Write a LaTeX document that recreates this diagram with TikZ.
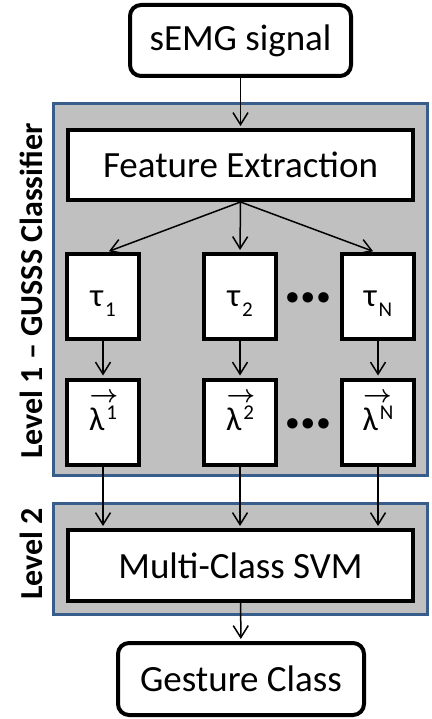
\documentclass[tikz,border=0pt]{standalone}
\usepackage{fontspec}
\setmainfont{Carlito}
\usetikzlibrary{arrows.meta}
\definecolor{levelblue}{HTML}{385D8A}
\definecolor{levelgray}{HTML}{C0C0C0}
\newcommand\tausub[1]{τ\kern2pt\raisebox{-10pt}{\fontsize{21}{21}\selectfont #1}}
\newcommand\veclam[1]{\makebox[0pt][l]{\kern0.5pt\raisebox{28pt}{\fontsize{25}{25}\selectfont\boldmath$\rightarrow$}}λ\kern2pt\raisebox{11pt}{\fontsize{21}{21}\selectfont #1}}

\begin{document}
\begin{tikzpicture}[x=1pt,y=-1pt,
  >={Straight Barb[length=12pt,width=15pt]},
  box/.style={draw,line width=4pt,fill=white,inner sep=0pt,font=\fontsize{37}{44}\selectfont},
  cell/.style={box,minimum width=72pt,minimum height=85pt,font=\fontsize{33}{38}\selectfont,text depth=0pt},
  taucell/.style={cell,text height=20pt},
  lamcell/.style={cell,text height=16pt},
  level/.style={draw=levelblue,line width=3pt,fill=levelgray},
  lab/.style={rotate=90,font=\fontsize{32}{38}\selectfont\bfseries},
  dots/.style={font=\fontsize{70}{80}\selectfont\bfseries},
  link/.style={->,line width=1.5pt,shorten >=2pt}]
\useasboundingbox (0,0) rectangle (431,719);

% the two levels
\draw[level] (53.5,103.5) rectangle (427.5,475.5);
\draw[level] (53.5,503.5) rectangle (427.5,614.5);
\node[lab] (lvlone) at (31,291) {Level 1 – GUSSS Classifier};
\node[lab] (lvltwo) at (31,554) {Level 2};

\node[box,rounded corners=11pt,minimum width=221pt,minimum height=71pt] (signal) at (240.5,40.5) {sEMG signal};
\node[box,minimum width=345pt,minimum height=70pt] (feature) at (240.5,165) {Feature Extraction};

\node[taucell] (tau1) at (103,296.5) {\tausub{1}};
\node[taucell] (tau2) at (240,296.5) {\tausub{2}};
\node[taucell] (tauN) at (378,296.5) {\tausub{N}};
\node[dots] (dtau) at (308,298) {…};

\node[lamcell] (lam1) at (103,422) {\veclam{1}};
\node[lamcell] (lam2) at (240,422) {\veclam{2}};
\node[lamcell] (lamN) at (378,422) {\veclam{N}};
\node[dots] (dlam) at (308,424) {…};

\node[box,minimum width=345pt,minimum height=71pt] (svm) at (240.5,565.5) {Multi-Class SVM};
\node[box,rounded corners=11pt,minimum width=246pt,minimum height=72pt] (gesture) at (241,679) {Gesture Class};

\draw[link] (signal) -- (feature);
\draw[link] (feature.south) -- ([xshift=4pt]tau1.north);
\draw[link] (feature.south) -- (tau2.north);
\draw[link] (feature.south) -- ([xshift=-3pt]tauN.north);

\draw[link] (tau1) -- (lam1);
\draw[link] (tau2) -- (lam2);
\draw[link] (tauN) -- (lamN);

\draw[link] (lam1.south) -- (lam1.south |- svm.north);
\draw[link] (lam2.south) -- (lam2.south |- svm.north);
\draw[link] (lamN.south) -- (lamN.south |- svm.north);

\draw[link] (svm) -- (gesture);
\end{tikzpicture}
\end{document}
